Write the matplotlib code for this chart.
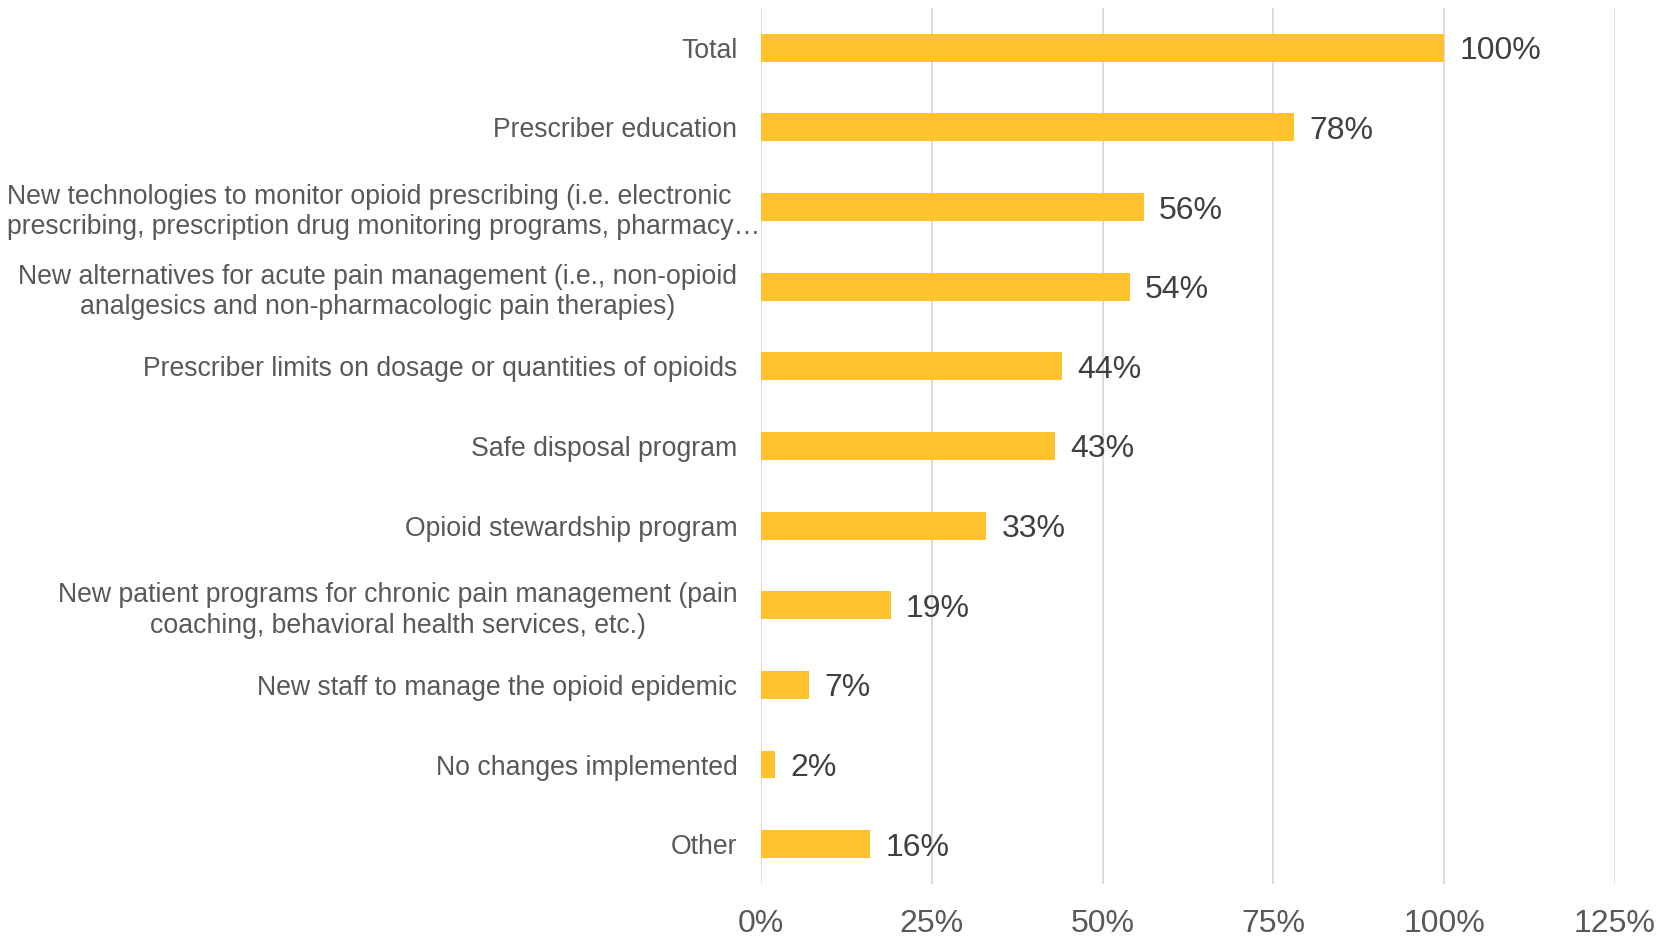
import matplotlib
matplotlib.use("Agg")
import matplotlib.pyplot as plt
from matplotlib.ticker import FuncFormatter, MultipleLocator

categories = [
    "Total",
    "Prescriber education",
    "New technologies to monitor opioid prescribing (i.e. electronic\nprescribing, prescription drug monitoring programs, pharmacy\u2026",
    "New alternatives for acute pain management (i.e., non-opioid\nanalgesics and non-pharmacologic pain therapies)",
    "Prescriber limits on dosage or quantities of opioids",
    "Safe disposal program",
    "Opioid stewardship program",
    "New patient programs for chronic pain management (pain\ncoaching, behavioral health services, etc.)",
    "New staff to manage the opioid epidemic",
    "No changes implemented",
    "Other",
]
values = [100, 78, 56, 54, 44, 43, 33, 19, 7, 2, 16]
value_labels = ["100%", "78%", "56%", "54%", "44%", "43%", "33%", "19%", "7%", "2%", "16%"]

plt.rcParams["font.family"] = ["Liberation Sans", "DejaVu Sans"]

BAR = "#FFC12E"
LABEL_GREY = "#595959"
VALUE_GREY = "#404040"
GRID = "#D9D9D9"

fig = plt.figure(figsize=(16.67, 9.36), dpi=100)
ax = fig.add_axes([0.4565, 0.0556, 0.5123, 0.9359])

pos = list(range(len(categories)))
ax.barh(pos, values, height=0.35, color=BAR, zorder=2)

for p, v, lab in zip(pos, values, value_labels):
    ax.annotate(lab, xy=(v, p), xytext=(11, 0), textcoords="offset points",
                va="center_baseline", ha="left", fontsize=23, color=VALUE_GREY)

ax.set_xlim(0, 125)
ax.set_ylim(len(categories) - 0.5, -0.5)
ax.xaxis.set_major_locator(MultipleLocator(25))
ax.xaxis.set_major_formatter(FuncFormatter(lambda x, _: f"{x:.0f}%"))
ax.grid(axis="x", color=GRID, linewidth=1.3, zorder=0)
ax.set_axisbelow(True)

ax.set_yticks(pos)
ax.set_yticklabels(categories, fontsize=19.2, color=LABEL_GREY)
for t in ax.get_yticklabels():
    t.set_multialignment("center")
    t.set_linespacing(1.22)
ax.tick_params(axis="y", length=0, pad=17)
ax.tick_params(axis="x", length=0, pad=18, labelsize=23, labelcolor=LABEL_GREY)

# the truncated technology label runs right up to the axis and is left-aligned
tick3 = ax.yaxis.get_major_ticks()[2]
tick3.set_pad(0.5)
ax.get_yticklabels()[2].set_multialignment("left")

for s in ["top", "right", "bottom", "left"]:
    ax.spines[s].set_visible(False)

fig.savefig("out.png", dpi=100, facecolor="white")
